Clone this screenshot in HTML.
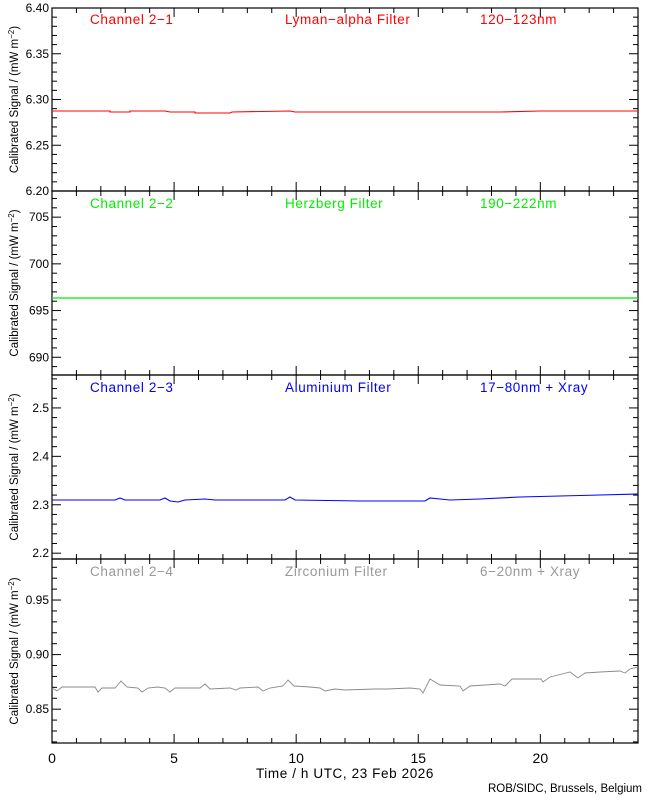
<!DOCTYPE html>
<html><head><style>
body{margin:0;background:#fff}
svg{display:block}
text{font-family:"Liberation Sans",sans-serif}
</style></head><body>
<svg id="s" width="650" height="800" xmlns="http://www.w3.org/2000/svg">
<rect width="650" height="800" fill="#fff"/>
<g id="g"></g>
<polyline fill="none" stroke="#ff0000" stroke-width="1.1" points="52,111 110,111 110,112 130,112 130,111 150,111 165,111 170,112 195,112 195,113 230,113 232,112 290,111 295,112 330,112 380,112 430,112 460,112 500,112 540,111 560,111 600,111 638,111"/>
<line x1="52" y1="298" x2="638" y2="298" stroke="#00ee00" stroke-width="1.2"/>
<polyline fill="none" stroke="#0000ff" stroke-width="1.1" points="52,500 115,500 120,498 125,500 160,500 165,498 170,501 178,502 185,500 205,499 215,500 285,500 290,497 295,500 360,501 425,501 430,498 440,499 450,500 480,499 520,497 560,496 600,495 638,494"/>
<polyline fill="none" stroke="#8a8a8a" stroke-width="0.9" points="52,688 57,691 62,687 95,687 98,692 102,688 115,688 121,681 127,687 138,688 142,692 148,688 158,687 165,688 170,692 175,688 200,688 205,684 210,689 230,688 236,690 240,688 258,687 263,691 270,688 283,686 288,680 294,686 310,687 320,688 325,691 335,689 345,690 375,689 387,689 410,688 420,689 423,693 430,679 440,685 460,686 463,691 470,686 500,684 505,686 508,683 512,679 541,679 543,682 550,677 558,675 570,672 578,678 585,673 600,672 620,671 625,673 630,669 638,667"/>
<g font-size="13.5" letter-spacing="0.6">
<text x="90" y="24" fill="#ff0000">Channel 2−1</text>
<text x="285" y="24" fill="#ff0000">Lyman−alpha Filter</text>
<text x="480" y="24" fill="#ff0000">120−123nm</text>
<text x="90" y="208" fill="#00ee00">Channel 2−2</text>
<text x="285" y="208" fill="#00ee00">Herzberg Filter</text>
<text x="480" y="208" fill="#00ee00">190−222nm</text>
<text x="90" y="392" fill="#0000ff">Channel 2−3</text>
<text x="285" y="392" fill="#0000ff">Aluminium Filter</text>
<text x="480" y="392" fill="#0000ff">17−80nm + Xray</text>
<text x="90" y="576" fill="#999">Channel 2−4</text>
<text x="285" y="576" fill="#999">Zirconium Filter</text>
<text x="480" y="576" fill="#999">6−20nm + Xray</text>
<text x="345" y="778" text-anchor="middle" fill="#000">Time / h UTC, 23 Feb 2026</text>
</g>
<text x="642" y="792" text-anchor="end" font-size="11.5">ROB/SIDC, Brussels, Belgium</text>
</svg>
<script>
var g=document.getElementById('g'),h='';
var L=52,R=638;
var P=[{t:8,b:191,min:6.20,max:6.40,maj:0.05,mn:0.01,dec:2},
{t:191,b:375,min:688.1,max:707.8,maj:5,mn:1,dec:0},
{t:375,b:559,min:2.188,max:2.568,maj:0.1,mn:0.02,dec:1},
{t:559,b:743,min:0.819,max:0.9876,maj:0.05,mn:0.01,dec:2}];
P.forEach(function(p,i){
 h+='<rect x="'+L+'" y="'+p.t+'" width="'+(R-L)+'" height="'+(p.b-p.t)+'" fill="none" stroke="#000" stroke-width="1.2"/>';
 function Y(v){return p.b-(v-p.min)/(p.max-p.min)*(p.b-p.t);}
 var s=Math.ceil(p.min/p.mn-1e-6);
 for(var k=s;k*p.mn<=p.max+1e-9;k++){var v=k*p.mn,y=Y(v);
  var isM=Math.abs(v/p.maj-Math.round(v/p.maj))<1e-6,len=isM?9:5;
  h+='<line x1="'+L+'" y1="'+y+'" x2="'+(L+len)+'" y2="'+y+'" stroke="#000"/>';
  h+='<line x1="'+R+'" y1="'+y+'" x2="'+(R-len)+'" y2="'+y+'" stroke="#000"/>';
  if(isM)h+='<text x="'+(L-3)+'" y="'+(y+4)+'" text-anchor="end" font-size="12">'+v.toFixed(p.dec)+'</text>';}
 for(var x=0;x<=24;x++){var px=L+x*(R-L)/24,len=x%5==0?9:5;
  h+='<line x1="'+px+'" y1="'+p.b+'" x2="'+px+'" y2="'+(p.b-len)+'" stroke="#000"/>';
  h+='<line x1="'+px+'" y1="'+p.t+'" x2="'+px+'" y2="'+(p.t+len)+'" stroke="#000"/>';}
 var cy=(p.t+p.b)/2;
 h+='<text transform="translate(18,'+cy+') rotate(-90)" text-anchor="middle" font-size="11.5">Calibrated Signal / (mW m<tspan dy="-4" font-size="8">−2</tspan><tspan dy="4">)</tspan></text>';
});
[0,5,10,15,20].forEach(function(x){h+='<text x="'+(L+x*(R-L)/24)+'" y="763" text-anchor="middle" font-size="14">'+x+'</text>';});
g.innerHTML=h;
</script>
</body></html>
